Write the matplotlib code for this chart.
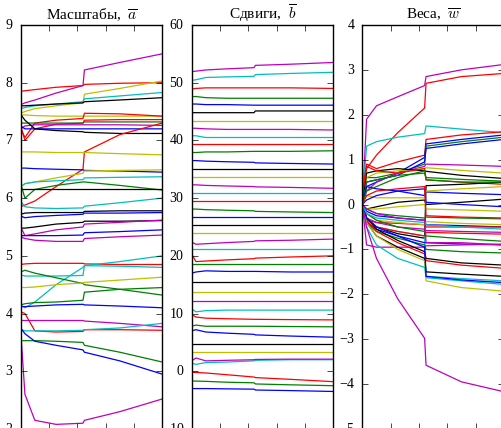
import matplotlib
matplotlib.use("Agg")
import matplotlib.pyplot as plt

steps = [0, 3, 10, 25, 44, 45, 70, 100]

# Масштабы a
scale_vals = [
    [7.62, 7.65, 7.70, 7.82, 7.95, 8.22, 8.35, 8.50],
    [7.85, 7.86, 7.88, 7.92, 7.95, 7.97, 7.99, 8.00],
    [7.47, 7.50, 7.55, 7.60, 7.65, 7.80, 7.90, 8.03],
    [7.55, 7.57, 7.60, 7.63, 7.67, 7.72, 7.77, 7.83],
    [7.60, 7.60, 7.61, 7.63, 7.65, 7.67, 7.70, 7.74],
    [7.44, 7.44, 7.43, 7.42, 7.42, 7.42, 7.42, 7.42],
    [7.20, 7.05, 7.30, 7.35, 7.38, 7.47, 7.46, 7.42],
    [7.25, 7.00, 7.20, 7.28, 7.30, 7.35, 7.36, 7.36],
    [7.30, 7.30, 7.30, 7.30, 7.30, 7.32, 7.32, 7.32],
    [7.20, 7.25, 7.27, 7.27, 7.27, 7.27, 7.27, 7.26],
    [7.25, 7.20, 7.20, 7.20, 7.20, 7.20, 7.20, 7.20],
    [7.45, 7.35, 7.20, 7.17, 7.15, 7.14, 7.12, 7.12],
    [5.85, 5.88, 5.95, 6.20, 6.50, 6.80, 7.10, 7.30],
    [6.80, 6.80, 6.80, 6.79, 6.79, 6.79, 6.77, 6.75],
    [6.52, 6.52, 6.51, 6.50, 6.49, 6.48, 6.47, 6.45],
    [6.20, 6.25, 6.28, 6.35, 6.43, 6.47, 6.48, 6.49],
    [6.20, 6.25, 6.28, 6.30, 6.32, 6.35, 6.36, 6.37],
    [6.25, 6.00, 6.15, 6.22, 6.28, 6.28, 6.22, 6.14],
    [6.16, 6.16, 6.16, 6.16, 6.16, 6.16, 6.16, 6.16],
    [5.95, 5.85, 5.83, 5.82, 5.83, 5.86, 5.92, 6.00],
    [5.72, 5.74, 5.75, 5.75, 5.75, 5.77, 5.78, 5.78],
    [5.69, 5.66, 5.68, 5.70, 5.72, 5.74, 5.74, 5.75],
    [5.48, 5.48, 5.50, 5.55, 5.58, 5.60, 5.60, 5.61],
    [5.50, 5.35, 5.38, 5.45, 5.50, 5.55, 5.58, 5.62],
    [5.33, 5.30, 5.27, 5.25, 5.25, 5.30, 5.33, 5.36],
    [5.35, 5.35, 5.35, 5.35, 5.36, 5.40, 5.42, 5.45],
    [4.85, 4.86, 4.87, 4.87, 4.87, 4.86, 4.85, 4.85],
    [4.67, 4.65, 4.65, 4.65, 4.66, 4.83, 4.82, 4.80],
    [4.15, 4.10, 4.20, 4.50, 4.80, 4.83, 4.90, 5.00],
    [4.72, 4.75, 4.70, 4.62, 4.52, 4.50, 4.42, 4.32],
    [4.45, 4.45, 4.46, 4.50, 4.53, 4.54, 4.58, 4.63],
    [4.15, 4.17, 4.19, 4.20, 4.23, 4.37, 4.42, 4.45],
    [4.12, 4.12, 4.13, 4.15, 4.16, 4.15, 4.13, 4.10],
    [4.03, 4.00, 3.70, 3.68, 3.69, 3.72, 3.72, 3.71],
    [3.88, 3.88, 3.88, 3.88, 3.88, 3.87, 3.83, 3.77],
    [3.72, 3.70, 3.70, 3.70, 3.71, 3.72, 3.75, 3.83],
    [3.53, 3.53, 3.53, 3.52, 3.50, 3.45, 3.33, 3.16],
    [3.75, 3.65, 3.52, 3.45, 3.37, 3.33, 3.18, 2.95],
    [3.70, 2.60, 2.15, 2.08, 2.10, 2.15, 2.30, 2.52],
]
scale_colors = ["m", "r", "y", "c", "k", "y", "r", "r", "g", "m", "b", "k", "r",
                "y", "b", "y", "c", "g", "k", "c", "k", "b", "k", "m", "m", "b",
                "r", "c", "c", "g", "y", "g", "b", "r", "m", "c", "g", "b", "m"]

# Сдвиги b, from the lowest curve up
shift_vals = [
    [-3.0, -3.0, -3.0, -3.05, -3.1, -3.25, -3.35, -3.5],
    [-1.7, -1.7, -1.75, -1.9, -2.0, -2.2, -2.35, -2.5],
    [-0.2, -0.2, -0.3, -0.6, -1.0, -1.1, -1.4, -1.8],
    [1.4, 1.2, 1.5, 1.6, 1.8, 1.9, 2.0, 2.0],
    [1.8, 2.3, 1.8, 1.9, 2.0, 2.05, 2.1, 2.1],
    [3.4, 3.4, 3.4, 3.4, 3.4, 3.4, 3.4, 3.4],
    [4.8, 4.8, 4.8, 4.8, 4.8, 4.8, 4.8, 4.8],
    [7.0, 7.2, 6.8, 6.6, 6.4, 6.3, 6.1, 5.9],
    [7.8, 8.0, 7.8, 7.8, 7.8, 7.8, 7.75, 7.7],
    [9.8, 9.4, 9.2, 9.1, 9.0, 9.0, 8.95, 8.9],
    [10.8, 10.3, 10.5, 10.6, 10.6, 10.6, 10.6, 10.6],
    [12.2, 12.2, 12.2, 12.2, 12.2, 12.2, 12.2, 12.2],
    [13.8, 13.8, 13.8, 13.8, 13.8, 13.8, 13.8, 13.8],
    [15.4, 15.4, 15.4, 15.4, 15.4, 15.4, 15.4, 15.4],
    [17.0, 17.2, 17.4, 17.3, 17.3, 17.3, 17.2, 17.2],
    [18.5, 18.5, 18.5, 18.5, 18.5, 18.5, 18.5, 18.5],
    [20.3, 19.0, 19.1, 19.3, 19.5, 19.6, 19.8, 20.0],
    [21.1, 21.1, 21.1, 21.1, 21.1, 21.1, 21.1, 21.1],
    [22.4, 22.0, 22.1, 22.3, 22.5, 22.6, 22.7, 22.9],
    [23.9, 23.9, 23.9, 23.9, 23.9, 23.9, 23.9, 23.9],
    [25.3, 25.3, 25.3, 25.3, 25.3, 25.3, 25.3, 25.3],
    [26.7, 26.7, 26.7, 26.7, 26.7, 26.7, 26.7, 26.7],
    [28.1, 28.1, 28.0, 27.9, 27.8, 27.7, 27.6, 27.5],
    [29.5, 29.5, 29.5, 29.5, 29.5, 29.5, 29.5, 29.5],
    [30.9, 30.9, 30.9, 30.9, 30.9, 30.9, 30.9, 30.9],
    [32.3, 32.3, 32.2, 32.1, 32.0, 31.95, 31.85, 31.7],
    [33.7, 33.7, 33.7, 33.7, 33.7, 33.7, 33.7, 33.7],
    [35.0, 35.0, 35.0, 35.0, 35.0, 35.0, 35.0, 35.0],
    [36.5, 36.5, 36.4, 36.3, 36.2, 36.1, 36.0, 35.9],
    [37.9, 37.9, 38.0, 38.0, 38.1, 38.1, 38.1, 38.2],
    [39.3, 39.3, 39.3, 39.3, 39.3, 39.3, 39.3, 39.3],
    [40.8, 40.8, 40.5, 40.5, 40.5, 40.5, 40.5, 40.5],
    [42.1, 42.1, 42.0, 41.9, 41.9, 41.9, 41.9, 41.8],
    [43.4, 43.4, 43.4, 43.4, 43.4, 43.4, 43.4, 43.4],
    [44.8, 44.8, 44.8, 44.8, 44.8, 45.1, 45.1, 45.1],
    [46.3, 46.3, 46.2, 46.2, 46.1, 46.1, 46.1, 46.1],
    [47.6, 47.6, 47.4, 47.3, 47.3, 47.3, 47.3, 47.3],
    [48.9, 49.0, 49.1, 49.1, 49.1, 49.1, 49.1, 49.0],
    [50.4, 50.5, 50.9, 51.0, 51.1, 51.4, 51.6, 51.8],
    [51.9, 52.0, 52.2, 52.4, 52.6, 53.0, 53.2, 53.5],
]
shift_colors = ["b", "g", "r", "c", "m", "y", "k"]

# Веса w
weight_vals = [
    [0.0, 1.9, 2.2, 2.4, 2.65, 2.85, 3.0, 3.12],
    [0.3, 0.8, 1.1, 1.6, 2.15, 2.7, 2.85, 2.92],
    [0.1, 1.3, 1.4, 1.5, 1.58, 1.75, 1.68, 1.6],
    [0.2, 0.9, 0.8, 0.95, 1.1, 1.45, 1.55, 1.62],
    [0.0, 0.4, 0.5, 0.7, 1.05, 1.35, 1.45, 1.55],
    [0.1, 0.6, 0.6, 0.7, 0.9, 1.3, 1.4, 1.5],
    [0.0, 0.5, 0.55, 0.65, 0.95, 1.25, 1.35, 1.45],
    [0.0, 0.3, 0.5, 0.7, 0.85, 0.9, 0.88, 0.85],
    [0.0, 0.6, 0.7, 0.75, 0.8, 0.82, 0.76, 0.7],
    [0.0, 0.7, 0.75, 0.8, 0.75, 0.74, 0.65, 0.58],
    [0.0, 0.5, 0.55, 0.65, 0.7, 0.6, 0.56, 0.52],
    [0.2, 0.85, 0.75, 0.7, 0.8, 0.55, 0.5, 0.45],
    [0.0, -0.3, -0.5, -0.65, -0.75, 0.42, 0.45, 0.5],
    [0.0, -0.3, -0.5, -0.6, -0.7, -1.63, -1.7, -1.78],
    [0.0, -0.1, -0.05, 0.05, 0.1, 0.0, 0.05, 0.12],
    [0.0, 0.4, 0.35, 0.3, 0.2, 0.28, 0.25, 0.22],
    [0.0, 0.2, 0.15, 0.15, 0.15, 0.3, 0.35, 0.4],
    [0.0, 0.1, 0.2, 0.3, 0.35, 0.05, 0.0, -0.05],
    [0.0, -0.1, -0.1, -0.05, 0.0, -0.1, -0.12, -0.15],
    [0.0, -0.1, -0.2, -0.25, -0.3, -0.28, -0.3, -0.32],
    [0.0, -0.15, -0.25, -0.3, -0.35, -0.45, -0.47, -0.5],
    [0.0, -0.35, -0.4, -0.42, -0.45, -0.5, -0.5, -0.5],
    [0.0, -0.2, -0.35, -0.4, -0.45, -0.38, -0.42, -0.45],
    [0.0, -0.3, -0.4, -0.5, -0.55, -0.58, -0.6, -0.62],
    [0.0, -0.2, -0.35, -0.5, -0.6, -0.7, -0.76, -0.82],
    [0.0, -0.3, -0.5, -0.6, -0.7, -0.62, -0.64, -0.66],
    [0.0, -0.4, -0.55, -0.7, -0.85, -0.85, -0.88, -0.9],
    [0.0, -0.9, -0.95, -0.95, -0.95, -0.92, -0.9, -0.88],
    [0.0, -0.4, -0.6, -0.75, -0.9, -1.0, -1.05, -1.08],
    [0.0, -0.3, -0.55, -0.8, -1.05, -1.2, -1.3, -1.35],
    [0.0, -0.35, -0.6, -0.85, -1.1, -1.25, -1.35, -1.42],
    [0.0, -0.4, -0.7, -0.95, -1.2, -1.5, -1.55, -1.6],
    [0.0, -0.4, -0.7, -1.0, -1.25, -1.7, -1.85, -1.93],
    [0.0, -0.5, -0.9, -1.2, -1.4, -1.6, -1.65, -1.7],
    [0.0, -0.3, -0.5, -0.7, -0.95, -1.6, -1.68, -1.74],
    [0.0, -0.5, -1.2, -2.1, -2.98, -3.58, -3.95, -4.17],
    [0.0, -0.2, -0.3, -0.35, -0.4, -0.45, -0.5, -0.55],
    [0.0, 0.3, 0.4, 0.6, 0.75, 0.55, 0.5, 0.5],
    [0.0, 0.2, 0.3, 0.35, 0.4, -0.25, -0.28, -0.3],
    [0.0, -0.1, -0.2, -0.3, -0.35, -0.85, -0.85, -0.9],
]
weight_colors = ["m", "r", "c", "r", "b", "g", "b", "m", "y", "k", "g", "r",
                 "k", "c", "k", "b", "y", "b", "y", "g", "b", "r", "y", "m",
                 "g", "r", "b", "m", "g", "k", "r", "k", "y", "c", "b", "m",
                 "c", "g", "r", "m"]

plt.style.use("classic")
plt.rcParams["mathtext.fontset"] = "cm"
plt.rcParams["axes.formatter.use_mathtext"] = True
plt.rcParams["font.family"] = ["Liberation Serif", "DejaVu Serif"]

fig = plt.figure(figsize=(5.01, 4.28), dpi=100, facecolor="white")

panels = [
    (0.0413, "Масштабы, $\\;\\overline{a}$", scale_vals, scale_colors, (2, 9), range(2, 10)),
    (0.3826, "Сдвиги, $\\;\\overline{b}$", shift_vals, shift_colors, (-10, 60), range(-10, 61, 10)),
    (0.7232, "Веса, $\\;\\overline{w}$", weight_vals, weight_colors, (-5, 4), range(-5, 5)),
]

for left, title, vals, colors, ylim, yticks in panels:
    ax = fig.add_axes([left, -0.0023, 0.2826, 0.944])
    for i, v in enumerate(vals):
        ax.plot(steps, v, color=colors[i % len(colors)], lw=0.9)
    ax.set_xlim(0, 100)
    ax.set_xticks(range(0, 101, 20))
    ax.set_ylim(*ylim)
    ax.set_yticks(list(yticks))
    # the x labels sit below the cropped bottom edge, so none are drawn
    ax.tick_params(axis="x", labelbottom=False)
    ax.tick_params(labelsize=10, direction="in", length=4, pad=5)
    ax.set_title(title, fontsize=11, pad=4)

fig.savefig("out.png", dpi=100, facecolor="white")
